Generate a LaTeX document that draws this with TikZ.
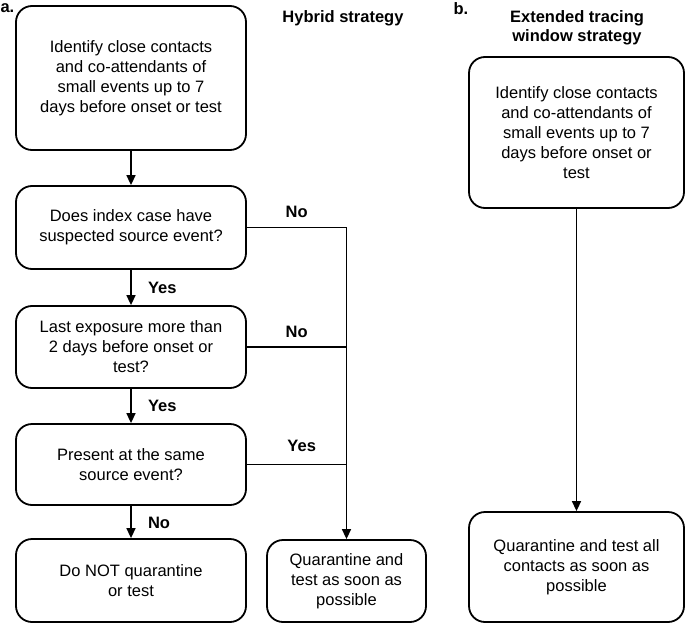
\documentclass[tikz,border=0pt]{standalone}
\usepackage{fontspec}
\setmainfont{Liberation Sans}
\usetikzlibrary{arrows.meta}
\tikzset{
  flowbox/.style={draw, line width=1.8pt, rounded corners=16pt, align=center, inner sep=0pt, font=\fontsize{16.5}{20}\selectfont},
  flowline/.style={line width=1.5pt},
  flowarrow/.style={line width=1.5pt, ->, >={Triangle[length=10pt,width=9pt]}},
  answer/.style={font=\fontsize{16.5}{20}\selectfont\bfseries},
}
\begin{document}
\begin{tikzpicture}[x=1pt, y=-1pt]
\useasboundingbox (0,0) rectangle (685,623);
% a. hybrid strategy
\node[answer, anchor=west] (labela) at (-3,8) {a.};
\node[answer] (titlea) at (343,18) {Hybrid strategy};
\node[flowbox, minimum width=230pt, minimum height=144pt] (identa) at (131,78) {Identify close contacts\\and co-attendants of\\small events up to 7\\days before onset or test};
\node[flowbox, minimum width=230pt, minimum height=83pt] (sourceq) at (131,227.5) {Does index case have\\suspected source event?};
\node[flowbox, minimum width=230pt, minimum height=82pt] (exposq) at (131,347) {Last exposure more than\\2 days before onset or\\test?};
\node[flowbox, minimum width=230pt, minimum height=81pt] (sameq) at (131,464.5) {Present at the same\\source event?};
\node[flowbox, minimum width=230pt, minimum height=83pt] (noquar) at (131,580.5) {Do NOT quarantine\\or test};
\node[flowbox, minimum width=159pt, minimum height=82pt] (quara) at (346.5,581) {Quarantine and\\test as soon as\\possible};
\draw[flowarrow] (identa) -- (sourceq);
\draw[flowarrow] (sourceq) -- node[answer, anchor=west, xshift=13pt] {Yes} (exposq);
\draw[flowarrow] (exposq) -- node[answer, anchor=west, xshift=13pt] {Yes} (sameq);
\draw[flowarrow] (sameq) -- node[answer, anchor=west, xshift=13pt, yshift=-1pt] {No} (noquar);
\coordinate (joina) at (sourceq.east -| quara.north);
\draw[flowline] (sourceq.east) -- node[answer, anchor=base, yshift=10pt] {No} (joina);
\draw[flowline] (exposq.east) -- node[answer, anchor=base, yshift=10pt] {No} (exposq.east -| quara.north);
\draw[flowline] (sameq.east) -- node[answer, anchor=base, yshift=13pt, xshift=5pt] {Yes} (sameq.east -| quara.north);
\draw[flowarrow] (joina) -- (quara);
% b. extended tracing window strategy
\node[answer, anchor=west] (labelb) at (450,9) {b.};
\node[answer, align=center, font=\fontsize{16.5}{19}\selectfont\bfseries] (titleb) at (577,27.5) {Extended tracing\\window strategy};
\node[flowbox, minimum width=215pt, minimum height=151pt] (traceb) at (576.5,132.5) {Identify close contacts\\and co-attendants of\\small events up to 7\\days before onset or\\test};
\node[flowbox, minimum width=215pt, minimum height=110pt] (quarb) at (576.5,567) {Quarantine and test all\\contacts as soon as\\possible};
\draw[flowarrow] (traceb) -- (quarb);
\end{tikzpicture}
\end{document}
